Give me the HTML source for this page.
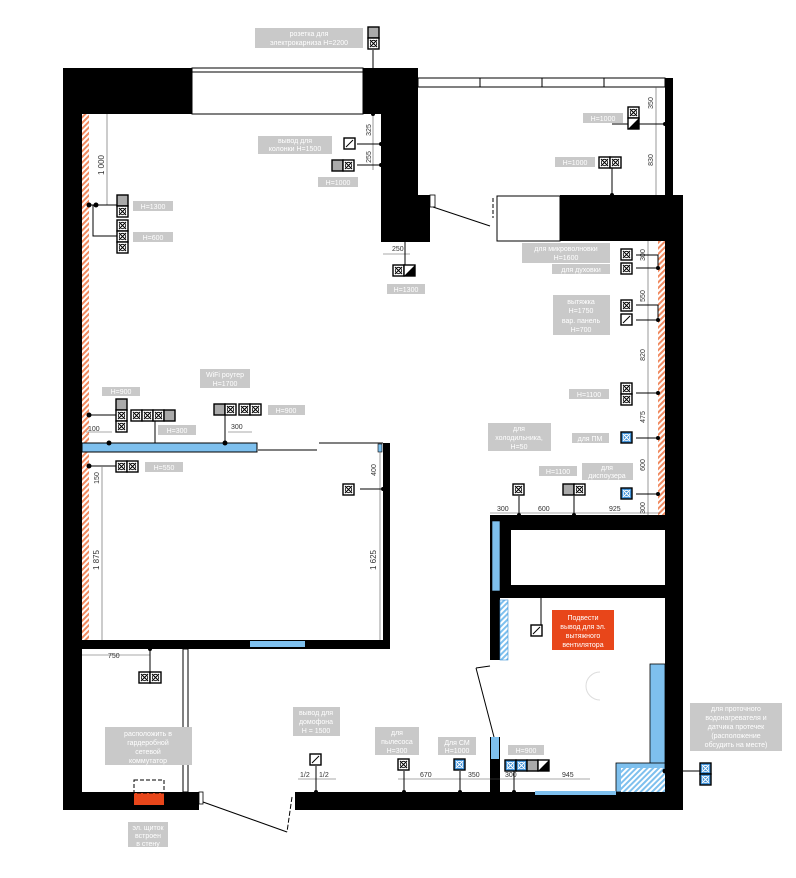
<!DOCTYPE html>
<html><head><meta charset="utf-8"><style>
html,body{margin:0;padding:0;background:#fff}
svg{display:block}
.l{font-family:"Liberation Sans","DejaVu Sans",sans-serif;font-size:7px;fill:#fff;text-anchor:middle}
.d{font-family:"Liberation Sans","DejaVu Sans",sans-serif;font-size:8px;fill:#333}
.g{fill:#c9c9c9}
.w{fill:#000}
.ln{stroke:#000;stroke-width:1;fill:none}
.th{stroke:#555;stroke-width:0.6;fill:none}
</style></head><body>
<svg width="796" height="878" viewBox="0 0 796 878" xmlns="http://www.w3.org/2000/svg">
<defs>
<pattern id="rh" width="4" height="4" patternUnits="userSpaceOnUse" patternTransform="rotate(45)"><rect width="4" height="4" fill="#fff"/><rect width="2" height="4" fill="#f08a60"/></pattern>
<pattern id="bh" width="4" height="4" patternUnits="userSpaceOnUse" patternTransform="rotate(45)"><rect width="4" height="4" fill="#fff"/><rect width="2" height="4" fill="#7ec0ee"/></pattern>
<g id="x"><rect x="0" y="0" width="11" height="11" fill="#fff" stroke="#000" stroke-width="1.4"/><path d="M2,2L9,9M9,2L2,9" stroke="#000" stroke-width="1"/><circle cx="5.5" cy="5.5" r="3.2" fill="none" stroke="#000" stroke-width="0.8"/></g>
<g id="xb"><rect x="0" y="0" width="11" height="11" fill="#3d8fd6" stroke="#000" stroke-width="1.4"/><path d="M2,2L9,9M9,2L2,9" stroke="#fff" stroke-width="1"/><circle cx="5.5" cy="5.5" r="3.2" fill="none" stroke="#fff" stroke-width="0.8"/></g>
<g id="sl"><rect x="0" y="0" width="11" height="11" fill="#fff" stroke="#000" stroke-width="1.4"/><path d="M2,9L9,2" stroke="#000" stroke-width="1"/></g>
<g id="tr"><rect x="0" y="0" width="11" height="11" fill="#fff" stroke="#000" stroke-width="1.4"/><path d="M0,11L11,0L11,11Z" fill="#000"/></g>
<g id="gr"><rect x="0" y="0" width="11" height="11" fill="#aaa" stroke="#000" stroke-width="1.4"/></g>
</defs>

<!-- walls -->
<rect class="w" x="63" y="68" width="19" height="742"/>
<rect class="w" x="63" y="68" width="129" height="46"/>
<rect x="192" y="68" width="171" height="46" fill="#fff" stroke="#000" stroke-width="1"/>
<line class="ln" x1="192" y1="72" x2="363" y2="72"/>
<rect class="w" x="363" y="68" width="55" height="46"/>
<polygon class="w" points="381,68 418,68 418,195 430,195 430,242 381,242"/>
<rect x="418" y="78" width="247" height="9" fill="#fff" stroke="#000" stroke-width="1"/>
<line class="ln" x1="480" y1="78" x2="480" y2="87"/><line class="ln" x1="542" y1="78" x2="542" y2="87"/><line class="ln" x1="604" y1="78" x2="604" y2="87"/>
<rect class="w" x="665" y="78" width="8" height="118"/>
<rect x="497" y="196" width="63" height="45" fill="#fff" stroke="#000" stroke-width="1"/>
<rect class="w" x="560" y="195" width="123" height="46"/>
<rect class="w" x="665" y="195" width="18" height="615"/>
<rect x="430" y="195" width="5" height="12" fill="#fff" stroke="#000" stroke-width="0.8"/>
<path d="M433,207L490,226" class="ln"/>
<path d="M493,198L493,218" class="ln" stroke-dasharray="4,2"/>
<!-- bottom walls -->
<rect class="w" x="63" y="792" width="136" height="18"/>
<rect class="w" x="295" y="792" width="388" height="18"/>
<rect x="199" y="792" width="4" height="12" fill="#fff" stroke="#000" stroke-width="0.8"/>
<path d="M203,802L287,832" class="ln"/>
<path d="M292,797L287,832" class="ln" stroke-dasharray="5,2"/>
<!-- red hatch -->
<rect x="82" y="114" width="7" height="526" fill="url(#rh)"/>
<rect x="658" y="241" width="7" height="274" fill="url(#rh)"/>
<!-- partition mid -->
<rect x="82" y="443" width="175" height="9" fill="#7ec0ee" stroke="#000" stroke-width="1"/>
<line class="ln" x1="258" y1="450" x2="317" y2="450"/>
<line class="ln" x1="319" y1="443" x2="383" y2="443"/>
<rect class="w" x="383" y="443" width="7" height="205"/>
<rect x="378" y="444" width="4" height="8" fill="#7ec0ee" stroke="#000" stroke-width="0.6"/>
<rect class="w" x="82" y="640" width="308" height="9"/>
<rect x="250" y="641" width="55" height="6" fill="#7ec0ee"/>
<!-- entry partition -->
<rect x="183" y="649" width="5" height="143" fill="#fff" stroke="#000" stroke-width="1"/>
<!-- kitchen boxes -->
<rect class="w" x="490" y="515" width="193" height="83"/>
<rect x="511" y="530" width="154" height="55" fill="#fff"/>
<rect x="492" y="521" width="8" height="70" fill="#7ec0ee" stroke="#000" stroke-width="0.6"/>
<rect class="w" x="490" y="598" width="10" height="62"/>
<rect x="500" y="600" width="8" height="60" fill="url(#bh)" stroke="#3d8fd6" stroke-width="0.6"/>
<path d="M476,668L490,666M476,668L494,737" class="ln"/>
<rect class="w" x="490" y="737" width="10" height="55"/>
<rect x="491" y="737" width="8" height="22" fill="#7ec0ee"/>
<rect x="650" y="664" width="15" height="100" fill="#7ec0ee" stroke="#000" stroke-width="0.8"/>
<rect x="616" y="763" width="49" height="29" fill="#7ec0ee" stroke="#000" stroke-width="0.8"/>
<rect x="621" y="768" width="44" height="24" fill="url(#bh)"/>
<rect x="535" y="791" width="81" height="4" fill="#7ec0ee"/>
<path d="M600,672a14,14 0 1,0 0,28" fill="none" stroke="#ddd"/>

<!-- dimension lines -->
<g class="th">
<line x1="107" y1="114" x2="107" y2="205"/><line x1="102" y1="467" x2="102" y2="640"/>
<line x1="380" y1="452" x2="380" y2="640"/>
<line x1="373" y1="114" x2="373" y2="170"/>
<line x1="656" y1="87" x2="656" y2="195"/>
<line x1="648" y1="241" x2="648" y2="515"/>
<line x1="490" y1="513" x2="660" y2="513"/>
<line x1="82" y1="655" x2="150" y2="655"/>
<line x1="298" y1="779" x2="336" y2="779"/>
<line x1="398" y1="779" x2="590" y2="779"/>
<line x1="383" y1="254" x2="410" y2="254"/>
<line x1="86" y1="432" x2="112" y2="432"/>
<line x1="228" y1="432" x2="252" y2="432"/>
</g>
<g class="d">
<text x="104" y="165" transform="rotate(-90 104 165)" text-anchor="middle">1 000</text>
<text x="99" y="560" transform="rotate(-90 99 560)" text-anchor="middle">1 875</text>
<text x="99" y="478" transform="rotate(-90 99 478)" text-anchor="middle" font-size="7">150</text>
<text x="376" y="560" transform="rotate(-90 376 560)" text-anchor="middle">1 625</text>
<text x="376" y="470" transform="rotate(-90 376 470)" text-anchor="middle" font-size="7">400</text>
<text x="371" y="130" transform="rotate(-90 371 130)" text-anchor="middle" font-size="7">325</text>
<text x="371" y="157" transform="rotate(-90 371 157)" text-anchor="middle" font-size="7">255</text>
<text x="653" y="103" transform="rotate(-90 653 103)" text-anchor="middle" font-size="7">350</text>
<text x="653" y="160" transform="rotate(-90 653 160)" text-anchor="middle" font-size="7">830</text>
<text x="645" y="255" transform="rotate(-90 645 255)" text-anchor="middle" font-size="7">300</text>
<text x="645" y="296" transform="rotate(-90 645 296)" text-anchor="middle" font-size="7">550</text>
<text x="645" y="355" transform="rotate(-90 645 355)" text-anchor="middle" font-size="7">820</text>
<text x="645" y="417" transform="rotate(-90 645 417)" text-anchor="middle" font-size="7">475</text>
<text x="645" y="465" transform="rotate(-90 645 465)" text-anchor="middle" font-size="7">600</text>
<text x="645" y="508" transform="rotate(-90 645 508)" text-anchor="middle" font-size="7">300</text>
<text x="392" y="251" font-size="7">250</text>
<text x="88" y="431" font-size="7">100</text>
<text x="231" y="429" font-size="7">300</text>
<text x="497" y="511" font-size="7">300</text>
<text x="538" y="511" font-size="7">600</text>
<text x="609" y="511" font-size="7">925</text>
<text x="108" y="658" font-size="7">750</text>
<text x="300" y="777" font-size="7">1/2</text>
<text x="319" y="777" font-size="7">1/2</text>
<text x="420" y="777" font-size="7">670</text>
<text x="468" y="777" font-size="7">350</text>
<text x="505" y="777" font-size="7">300</text>
<text x="562" y="777" font-size="7">945</text>
</g>

<!-- connectors -->
<g class="ln">
<path d="M373,50L373,114"/><path d="M357,144L381,144M357,165L381,165"/>
<path d="M89,205L118,205M93,205L93,236L118,236"/>
<path d="M612,124L665,124M612,162L612,195"/>
<path d="M636,255L658,255L658,268M636,268L658,268"/>
<path d="M636,305L658,305L658,320M636,320L658,320"/>
<path d="M636,393L658,393M636,438L658,438M636,494L658,494"/>
<path d="M519,496L519,515M574,496L574,515"/>
<path d="M89,415L116,415M155,415L155,443"/>
<path d="M225,415L225,443"/>
<path d="M89,466L117,466"/>
<path d="M360,489L383,489"/>
<path d="M150,649L150,672"/>
<path d="M405,242L405,265"/>
<path d="M316,766L316,792M404,771L404,792M460,771L460,792M514,771L514,792"/>
<path d="M541,626L541,598"/>
<path d="M665,771L700,771"/>
</g>
<g fill="#000">
<circle cx="373" cy="114" r="2"/><circle cx="381" cy="144" r="2"/><circle cx="381" cy="165" r="2"/>
<circle cx="89" cy="205" r="2.5"/><circle cx="96" cy="205" r="2.5"/>
<circle cx="665" cy="124" r="2"/><circle cx="612" cy="195" r="2"/>
<circle cx="658" cy="268" r="2"/><circle cx="658" cy="320" r="2"/><circle cx="658" cy="393" r="2"/><circle cx="658" cy="438" r="2"/><circle cx="658" cy="494" r="2"/>
<circle cx="519" cy="515" r="2"/><circle cx="574" cy="515" r="2"/>
<circle cx="89" cy="415" r="2.5"/><circle cx="109" cy="443" r="2.5"/><circle cx="225" cy="443" r="2.5"/>
<circle cx="89" cy="466" r="2.5"/><circle cx="383" cy="489" r="2"/><circle cx="150" cy="649" r="2"/>
<circle cx="316" cy="792" r="2"/><circle cx="404" cy="792" r="2"/><circle cx="460" cy="792" r="2"/><circle cx="514" cy="792" r="2"/>
<circle cx="665" cy="771" r="2.5"/>
</g>

<!-- devices -->
<use href="#gr" x="368" y="27"/><use href="#x" x="368" y="38"/>
<use href="#sl" x="344" y="138"/>
<use href="#gr" x="332" y="160"/><use href="#x" x="343" y="160"/>
<use href="#gr" x="117" y="195"/><use href="#x" x="117" y="206"/><use href="#x" x="117" y="220"/><use href="#x" x="117" y="231"/><use href="#x" x="117" y="242"/>
<use href="#x" x="628" y="107"/><use href="#tr" x="628" y="118"/>
<use href="#x" x="599" y="157"/><use href="#x" x="610" y="157"/>
<use href="#x" x="393" y="265"/><use href="#tr" x="404" y="265"/>
<use href="#x" x="621" y="249"/><use href="#x" x="621" y="263"/>
<use href="#x" x="621" y="300"/><use href="#sl" x="621" y="314"/>
<use href="#x" x="621" y="383"/><use href="#x" x="621" y="394"/>
<use href="#xb" x="621" y="432"/><use href="#xb" x="621" y="488"/>
<use href="#x" x="513" y="484"/>
<use href="#gr" x="563" y="484"/><use href="#x" x="574" y="484"/>
<use href="#gr" x="116" y="399"/><use href="#x" x="116" y="410"/><use href="#x" x="116" y="421"/>
<use href="#x" x="131" y="410"/><use href="#x" x="142" y="410"/><use href="#x" x="153" y="410"/><use href="#gr" x="164" y="410"/>
<use href="#gr" x="214" y="404"/><use href="#x" x="225" y="404"/><use href="#x" x="239" y="404"/><use href="#x" x="250" y="404"/>
<use href="#x" x="116" y="461"/><use href="#x" x="127" y="461"/>
<use href="#x" x="343" y="484"/>
<use href="#x" x="139" y="672"/><use href="#x" x="150" y="672"/>
<use href="#sl" x="310" y="754"/>
<use href="#x" x="398" y="759"/><use href="#xb" x="454" y="759"/>
<use href="#xb" x="505" y="760"/><use href="#xb" x="516" y="760"/><use href="#gr" x="527" y="760"/><use href="#tr" x="538" y="760"/>
<use href="#sl" x="531" y="625"/>
<use href="#xb" x="700" y="763"/><use href="#xb" x="700" y="774"/>
<rect x="134" y="793" width="30" height="12" fill="#e8461a"/>
<rect x="134" y="780" width="30" height="13" fill="none" stroke="#000" stroke-dasharray="4,2"/>

<!-- labels -->
<g class="g">
<rect x="255" y="28" width="108" height="20"/>
<rect x="258" y="136" width="74" height="18"/>
<rect x="318" y="177" width="40" height="10"/>
<rect x="133" y="201" width="40" height="10"/><rect x="133" y="232" width="40" height="10"/>
<rect x="583" y="113" width="40" height="10"/>
<rect x="555" y="157" width="40" height="10"/>
<rect x="387" y="284" width="38" height="10"/>
<rect x="522" y="243" width="88" height="20"/>
<rect x="552" y="264" width="58" height="10"/>
<rect x="553" y="295" width="57" height="40"/>
<rect x="569" y="389" width="40" height="10"/>
<rect x="572" y="433" width="37" height="10"/>
<rect x="488" y="423" width="63" height="28"/>
<rect x="539" y="466" width="38" height="10"/>
<rect x="582" y="463" width="51" height="17"/>
<rect x="102" y="387" width="38" height="9"/>
<rect x="200" y="369" width="50" height="19"/>
<rect x="158" y="425" width="38" height="10"/>
<rect x="268" y="405" width="37" height="10"/>
<rect x="145" y="462" width="38" height="10"/>
<rect x="105" y="727" width="87" height="38"/>
<rect x="128" y="822" width="40" height="25"/>
<rect x="293" y="707" width="47" height="29"/>
<rect x="375" y="727" width="44" height="28"/>
<rect x="438" y="737" width="38" height="18"/>
<rect x="508" y="745" width="36" height="10"/>
<rect x="690" y="703" width="92" height="48"/>
</g>
<rect x="552" y="610" width="62" height="40" fill="#e8461a"/>
<g class="l">
<text x="309" y="36">розетка для</text><text x="309" y="45">электрокарниза  H=2200</text>
<text x="295" y="143">вывод для</text><text x="295" y="151">колонки H=1500</text>
<text x="338" y="185">H=1000</text>
<text x="153" y="209">H=1300</text><text x="153" y="240">H=600</text>
<text x="603" y="121">H=1000</text>
<text x="575" y="165">H=1000</text>
<text x="406" y="292">H=1300</text>
<text x="566" y="251">для микроволновки</text><text x="566" y="260">H=1600</text>
<text x="581" y="272">для духовки</text>
<text x="581" y="304">вытяжка</text><text x="581" y="313">H=1750</text><text x="581" y="323">вар. панель</text><text x="581" y="332">H=700</text>
<text x="589" y="397">H=1100</text>
<text x="590" y="441">для ПМ</text>
<text x="519" y="431">для</text><text x="519" y="440">холодильника,</text><text x="519" y="449">H=50</text>
<text x="558" y="474">H=1100</text>
<text x="607" y="470">для</text><text x="607" y="478">диспоузера</text>
<text x="121" y="394">H=900</text>
<text x="225" y="377">WiFi роутер</text><text x="225" y="386">H=1700</text>
<text x="177" y="433">H=300</text>
<text x="286" y="413">H=900</text>
<text x="164" y="470">H=550</text>
<text x="148" y="736">расположить в</text><text x="148" y="745">гардеробной</text><text x="148" y="754">сетевой</text><text x="148" y="763">коммутатор</text>
<text x="148" y="830">эл. щиток</text><text x="148" y="838">встроен</text><text x="148" y="846">в стену</text>
<text x="316" y="715">вывод для</text><text x="316" y="724">домофона</text><text x="316" y="733">H = 1500</text>
<text x="397" y="735">для</text><text x="397" y="744">пылесоса</text><text x="397" y="753">H=300</text>
<text x="457" y="745">Для СМ</text><text x="457" y="753">H=1000</text>
<text x="526" y="753">H=900</text>
<text x="736" y="711">для проточного</text><text x="736" y="720">водонагревателя и</text><text x="736" y="729">датчика протечек</text><text x="736" y="738">(расположение</text><text x="736" y="747">обсудить на месте)</text>
<text x="583" y="620">Подвести</text><text x="583" y="629">вывод для эл.</text><text x="583" y="638">вытяжного</text><text x="583" y="647">вентилятора</text>
</g>
</svg>
</body></html>
